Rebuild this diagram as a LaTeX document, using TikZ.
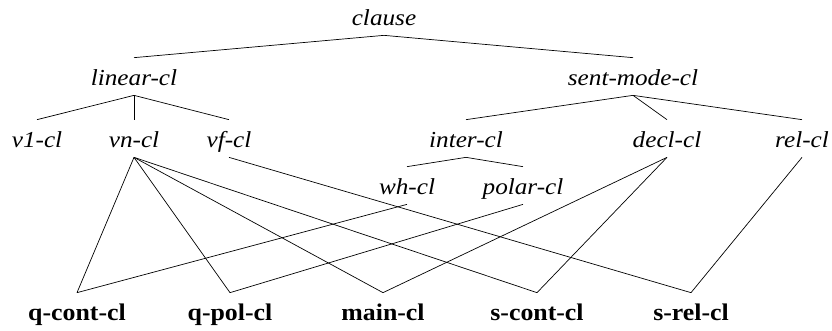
\documentclass[tikz,border=0pt]{standalone}
\usepackage{fontspec}
\setmainfont{Liberation Serif}
\newfontfamily\catfont{Liberation Serif Italic}[FakeStretch=1.1]
\newfontfamily\leaffont{Liberation Serif Bold}[FakeStretch=1.08]
\begin{document}
\begin{tikzpicture}[x=1bp,y=-1bp,line width=0.7pt,
	cls/.style={anchor=base,inner xsep=0pt,inner ysep=10bp,text height=17bp,text depth=0pt,
		font=\catfont\fontsize{23}{27}\selectfont},
	leafcls/.style={anchor=base,inner xsep=0pt,inner ysep=10bp,text height=17bp,text depth=0pt,
		font=\leaffont\fontsize{24}{28}\selectfont}]
	\useasboundingbox (0,0) rectangle (832,330);

	% top
	\node [cls] (clause) at (384,25) {clause};
	\node [cls] (linear) at (134,85) {linear-cl};
	\node [cls] (sentmode) at (633,85) {sent-mode-cl};

	% linear-cl
	\node [cls] (vone) at (37,147) {v1-cl};
	\node [cls] (vn) at (134,147) {vn-cl};
	\node [cls] (vf) at (229,147) {vf-cl};

	% sent-mode-cl
	\node [cls] (inter) at (466,147) {inter-cl};
	\node [cls] (decl) at (667,147) {decl-cl};
	\node [cls] (rel) at (802,147) {rel-cl};
	\node [cls] (wh) at (407,194) {wh-cl};
	\node [cls] (polar) at (523,194) {polar-cl};

	% maximal types
	\node [leafcls] (qcont) at (77,320) {q-cont-cl};
	\node [leafcls] (qpol) at (230,320) {q-pol-cl};
	\node [leafcls] (main) at (383,320) {main-cl};
	\node [leafcls] (scont) at (537,320) {s-cont-cl};
	\node [leafcls] (srel) at (691,320) {s-rel-cl};

	% hierarchy
	\draw (clause.south) -- (linear.north);
	\draw (clause.south) -- (sentmode.north);
	\draw (linear.south) -- (vone.north);
	\draw (linear.south) -- (vn.north);
	\draw (linear.south) -- (vf.north);
	\draw (sentmode.south) -- (inter.north);
	\draw (sentmode.south) -- (decl.north);
	\draw (sentmode.south) -- (rel.north);
	\draw (inter.south) -- (wh.north);
	\draw (inter.south) -- (polar.north);

	% cross classification
	\draw (vn.south) -- (qcont.north);
	\draw (vn.south) -- (qpol.north);
	\draw (vn.south) -- (main.north);
	\draw (vn.south) -- (scont.north);
	\draw (vf.south) -- (srel.north);
	\draw (wh.south) -- (qcont.north);
	\draw (polar.south) -- (qpol.north);
	\draw (decl.south) -- (main.north);
	\draw (decl.south) -- (scont.north);
	\draw (rel.south) -- (srel.north);
\end{tikzpicture}
\end{document}
